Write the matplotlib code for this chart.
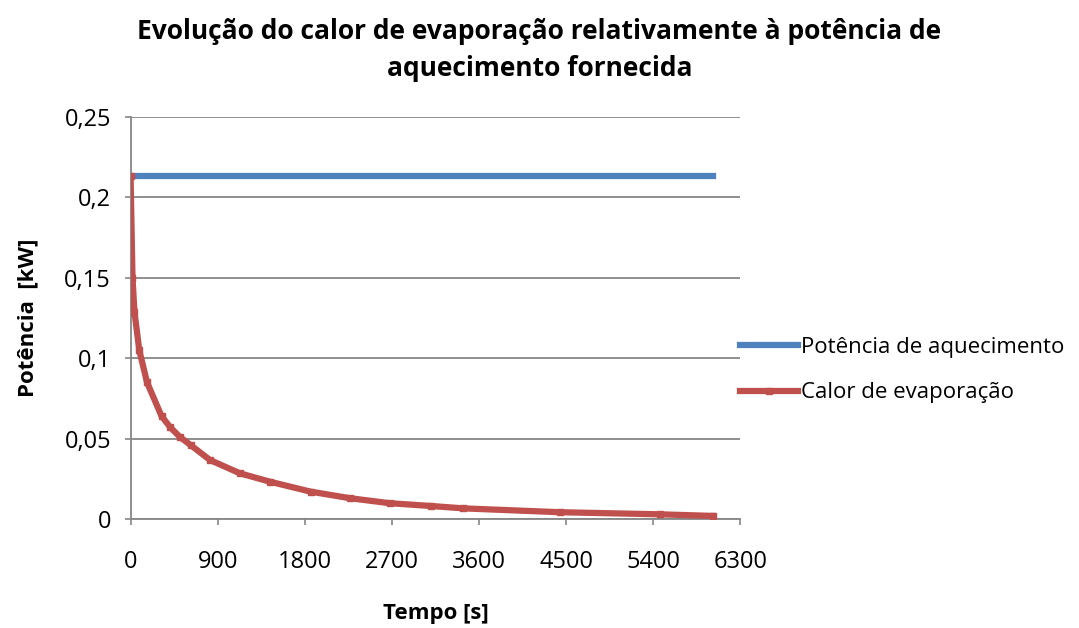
import matplotlib.pyplot as plt
from matplotlib.ticker import FuncFormatter

plt.rcParams['font.family'] = ['Open Sans', 'DejaVu Sans']

# Tempo [s] e potências [kW]
tempo = [0, 20, 40, 90, 170, 320, 410, 510, 620, 820, 1130, 1440,
         1860, 2270, 2680, 3100, 3440, 4440, 5470, 6020]
potencia_aquecimento = [0.213] * len(tempo)
calor_evaporacao = [0.213, 0.150, 0.129, 0.105, 0.085, 0.064, 0.057, 0.051,
                    0.046, 0.0367, 0.0284, 0.0232, 0.017, 0.0129, 0.0098,
                    0.0081, 0.0066, 0.0042, 0.0029, 0.0019]

x_ticks = [0, 900, 1800, 2700, 3600, 4500, 5400, 6300]
y_ticks = [0, 0.05, 0.1, 0.15, 0.2, 0.25]

titulo = "Evolução do calor de evaporação relativamente à potência de\naquecimento fornecida"

fig = plt.figure(figsize=(10.79, 6.28), dpi=100)
ax = fig.add_axes([0.121, 0.1736, 0.565, 0.6401])

ax.plot(tempo, potencia_aquecimento, color='#4F81BD', linewidth=4.5,
        label='Potência de aquecimento', zorder=3)
ax.plot(tempo, calor_evaporacao, color='#C0504D', linewidth=4.5,
        marker='s', markersize=4.5, label='Calor de evaporação', zorder=4)

ax.set_xlim(0, 6300)
ax.set_ylim(0, 0.25)
ax.set_xticks(x_ticks)
ax.set_yticks(y_ticks)

def virgula(v, pos):
    s = ('%.2f' % v).rstrip('0').rstrip('.')
    return s.replace('.', ',')

ax.yaxis.set_major_formatter(FuncFormatter(virgula))
ax.tick_params(axis='both', labelsize=17, colors='#868686', labelcolor='black',
               length=4, width=1.2)
ax.tick_params(axis='y', pad=10)
ax.tick_params(axis='x', pad=18)

ax.grid(axis='y', color='#868686', linewidth=1.3)
ax.set_axisbelow(True)
for lado in ['top', 'right']:
    ax.spines[lado].set_visible(False)
for lado in ['left', 'bottom']:
    ax.spines[lado].set_color('#868686')
    ax.spines[lado].set_linewidth(1.3)

ax.set_xlabel('Tempo [s]', fontsize=16, fontweight='bold', labelpad=21)
ax.set_ylabel('Potência  [kW]', fontsize=16, fontweight='bold', labelpad=19)

fig.text(0.5, 0.972, titulo, ha='center', va='top', fontsize=19,
         fontweight='bold', linespacing=1.5)

ax.legend(loc='center left', bbox_to_anchor=(1.0, 0.37), frameon=False,
          fontsize=16, handlelength=2.6, handletextpad=0.15,
          labelspacing=1.1, borderaxespad=0, borderpad=0)

fig.savefig('out.png', dpi=100)
